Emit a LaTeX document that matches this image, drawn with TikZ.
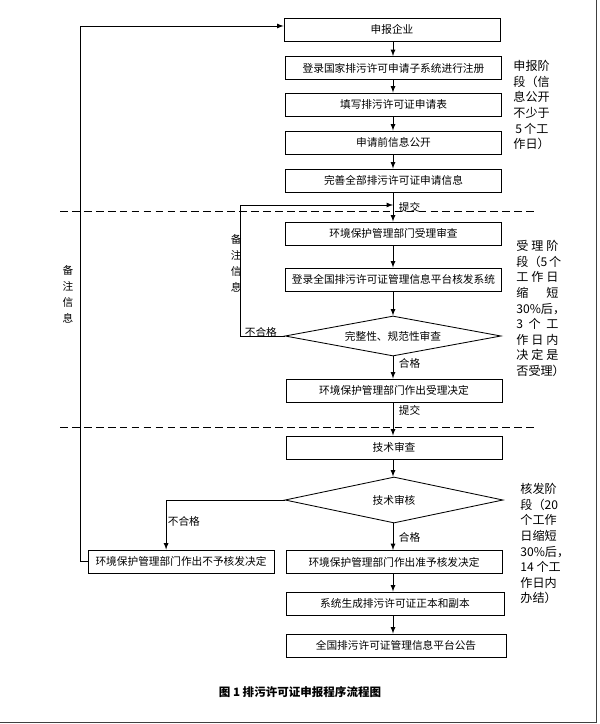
\documentclass[tikz,border=0pt]{standalone}
\usepackage{fontspec}
\setmainfont{Noto Sans CJK SC}
\usetikzlibrary{shapes.geometric}
\newcommand\spreadline[1]{\makebox[1.05cm][s]{#1}}
\begin{document}
\begin{tikzpicture}[
  x=0.025cm,y=-0.025cm,
  line width=0.6pt,
  box/.style={draw,minimum width=5.4cm,minimum height=0.575cm,inner sep=1pt,font=\fontsize{7.6}{9}\selectfont},
  check/.style={draw,diamond,aspect=5.4,minimum width=5.4cm,minimum height=1cm,inner sep=0pt,font=\fontsize{7.6}{9}\selectfont},
  flow/.style={-latex},
  divider/.style={dash pattern=on 5.5pt off 3pt},
  tag/.style={font=\fontsize{7.6}{9}\selectfont,inner sep=1pt},
  note/.style={font=\fontsize{7.6}{11.3}\selectfont,align=center,inner sep=0pt},
  stage/.style={font=\fontsize{8.6}{11.1}\selectfont,align=left,anchor=north west,inner sep=0pt},
  pagerule/.style={line width=1.1pt,black!75}
]
  \useasboundingbox (0,0) rectangle (599,724);

  % main column
  \node[box] (apply) at (392,29.5) {申报企业};
  \node[box] (register) at (393.5,68) {登录国家排污许可申请子系统进行注册};
  \node[box] (form) at (393.5,104.5) {填写排污许可证申请表};
  \node[box] (publicize) at (393.5,142.5) {申请前信息公开};
  \node[box] (complete) at (393.5,180.5) {完善全部排污许可证申请信息};
  \node[box] (accept) at (393.5,233.5) {环境保护管理部门受理审查};
  \node[box] (platform) at (393.5,279.5) {登录全国排污许可证管理信息平台核发系统};
  \node[check] (formal) at (393,336) {完整性、规范性审查};
  \node[box] (decide) at (394,390.5) {环境保护管理部门作出受理决定};
  \node[box] (techrev) at (394,447.5) {技术审查};
  \node[check,aspect=4.7,minimum width=5.45cm,minimum height=1.15cm] (techchk) at (394,500) {技术审核};
  \node[box] (grant) at (394,562) {环境保护管理部门作出准予核发决定};
  \node[box,minimum width=5.45cm] (issue) at (395,603.5) {系统生成排污许可证正本和副本};
  \node[box,minimum width=5.5cm] (notice) at (396,645.5) {全国排污许可证管理信息平台公告};
  \node[box,minimum width=4.65cm] (refuse) at (181,561.5) {环境保护管理部门作出不予核发决定};

  \coordinate (axis) at (393,0);
  \coordinate (submit1) at (393,205);

  \foreach \a/\b in {apply/register,register/form,form/publicize,publicize/complete,
                     complete/accept,accept/platform,platform/formal,formal/decide,
                     decide/techrev,techrev/techchk,techchk/grant,grant/issue,issue/notice}{
    \draw[flow] (\a.south -| axis) -- (\b.north -| axis);
  }

  % stage dividers
  \draw[divider] (60,211) -- (536,211);
  \draw[divider] (60,427) -- (536,427);

  % return paths
  \draw[flow] (formal.west) -- ++(-44,0) |- (submit1);
  \draw[flow] (techchk.west) -| ([xshift=-10.6pt]refuse.north);
  \draw[flow] (refuse.west) -- ++(-7,0) |- ([yshift=2.5pt]apply.west);

  \node[tag,anchor=west] (submitA) at (397,207) {提交};
  \node[tag,anchor=south west] (failA) at (243,339) {不合格};
  \node[tag,anchor=west] (passA) at (397,363) {合格};
  \node[tag,anchor=west] (submitB) at (397,410) {提交};
  \node[tag,anchor=west] (passB) at (397,537) {合格};
  \node[tag,anchor=west] (failB) at (166,521) {不合格};

  \node[note,anchor=east] (noteA) at (242,263.5) {备\\注\\信\\息};
  \node[note] (noteB) at (68,294) {备\\注\\信\\息};

  % stage notes
  \node[stage] (stageA) at (513,60) {申报阶\\段（信\\息公开\\不少于\\\,5\,个工\\作日）};
  \node[stage] (stageB) at (516,240) {\spreadline{受 理 阶}\\\spreadline{段（5 个}\\\spreadline{工 作 日}\\\spreadline{缩 短}\\30\%后，\\\spreadline{3 个 工}\\\spreadline{作 日 内}\\\spreadline{决 定 是}\\否受理）};
  \node[stage] (stageC) at (520,483) {核发阶\\段（20\\个工作\\日缩短\\30\%后，\\14 个工\\作日内\\办结）};

  \node[font=\bfseries\fontsize{8.2}{10}\selectfont] (caption) at (300,692) {图 1 排污许可证申报程序流程图};

  \draw[pagerule] (0,722.5) -| (596.5,0);
\end{tikzpicture}
\end{document}
